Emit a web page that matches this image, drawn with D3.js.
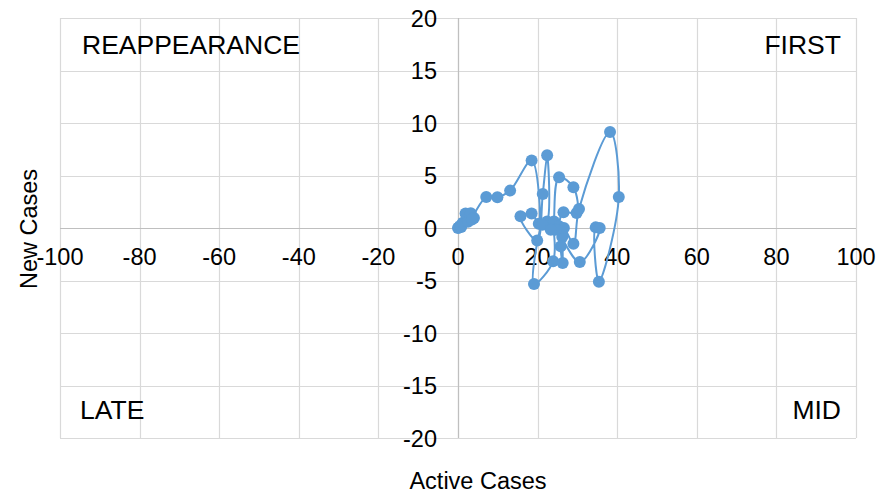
<!DOCTYPE html>
<html>
<head>
<meta charset="utf-8">
<script src="https://cdn.jsdelivr.net/npm/d3@7"></script>
<style>
  body { margin: 0; background: #fff; }
  text { font-family: "Liberation Sans", Arial, sans-serif; fill: #000; }
</style>
</head>
<body>
<div id="chart"></div>
<script>
// data (active cases, new cases), in drawing order
var activeCases = [0, 0.2, 0.5, 0.8, 1.2, 1.9, 2.5, 3.2, 4.0, 3.5, 7.1, 9.9, 13.1, 18.5, 20.3, 18.5, 15.7, 19.9,
  21.3, 22.4, 22.4, 21.2, 19.1, 23.9, 24.1, 25.4, 29.0, 29.8, 26.5, 25.4, 26.2, 25.8, 26.3, 26.6, 29.0, 30.4,
  38.2, 40.4, 35.4, 34.6, 35.6, 30.6, 24.5, 23.3];
var newCases = [0, 0.05, 0.2, 0.1, 0.5, 1.37, 0.6, 1.4, 0.95, 0.8, 2.95, 2.92, 3.56, 6.44, 0.4, 1.37, 1.11, -1.2,
  3.24, 6.92, 0.63, 0.32, -5.33, -3.17, 0.63, 4.83, 3.87, 1.43, 1.49, 0.16, -0.86, -1.75, -3.33, 0, -1.49, 1.81,
  9.14, 2.95, -5.11, 0.06, 0, -3.24, -0.16, -0.16];

var xTicks = [-100, -80, -60, -40, -20, 0, 20, 40, 60, 80, 100];
var yTicks = [-20, -15, -10, -5, 0, 5, 10, 15, 20];
var quadrants = ["REAPPEARANCE", "FIRST", "LATE", "MID"];

var width = 890,
    height = 495,
    margin = {top: 18, right: 34, bottom: 57, left: 60};

var svg = d3.select("#chart").append("svg")
    .attr("width", width)
    .attr("height", height);

var x = d3.scaleLinear()
    .domain([-100, 100])
    .range([margin.left, width - margin.right]);

var y = d3.scaleLinear()
    .domain([-20, 20])
    .range([height - margin.bottom, margin.top]);

// gridlines
svg.append("g").selectAll("line")
    .data(xTicks)
  .enter().append("line")
    .attr("x1", d => Math.round(x(d)) + 0.5)
    .attr("x2", d => Math.round(x(d)) + 0.5)
    .attr("y1", y(20))
    .attr("y2", y(-20))
    .attr("stroke", "#d9d9d9")
    .attr("stroke-width", 1.2);

svg.append("g").selectAll("line")
    .data(yTicks)
  .enter().append("line")
    .attr("x1", x(-100))
    .attr("x2", x(100))
    .attr("y1", d => Math.round(y(d)) + 0.5)
    .attr("y2", d => Math.round(y(d)) + 0.5)
    .attr("stroke", "#d9d9d9")
    .attr("stroke-width", 1.2);

// axis lines through the origin
svg.append("line")
    .attr("x1", x(-100)).attr("x2", x(100))
    .attr("y1", Math.round(y(0)) + 0.5).attr("y2", Math.round(y(0)) + 0.5)
    .attr("stroke", "#bfbfbf").attr("stroke-width", 1.2);
svg.append("line")
    .attr("x1", Math.round(x(0)) + 0.5).attr("x2", Math.round(x(0)) + 0.5)
    .attr("y1", y(20)).attr("y2", y(-20))
    .attr("stroke", "#bfbfbf").attr("stroke-width", 1.2);

// tick labels
svg.append("g").selectAll("text")
    .data(xTicks)
  .enter().append("text")
    .attr("x", d => x(d))
    .attr("y", y(0) + 37)
    .attr("text-anchor", "middle")
    .style("font-size", "23.5px")
    .text(d => d);

svg.append("g").selectAll("text")
    .data(yTicks)
  .enter().append("text")
    .attr("x", x(0) - 21)
    .attr("y", d => y(d) + 8.5)
    .attr("text-anchor", "end")
    .style("font-size", "23.5px")
    .text(d => d);

// axis titles
svg.append("text")
    .attr("x", 478)
    .attr("y", 489)
    .attr("text-anchor", "middle")
    .style("font-size", "23.5px")
    .text("Active Cases");

svg.append("text")
    .attr("transform", "translate(37," + (y(0) + 1) + ") rotate(-90)")
    .attr("text-anchor", "middle")
    .style("font-size", "23.5px")
    .text("New Cases");

// quadrant labels
svg.append("text").attr("x", 82).attr("y", 54).style("font-size", "26.5px").text(quadrants[0]);
svg.append("text").attr("x", 841).attr("y", 54).attr("text-anchor", "end").style("font-size", "26.5px").text(quadrants[1]);
svg.append("text").attr("x", 80).attr("y", 419).style("font-size", "26.5px").text(quadrants[2]);
svg.append("text").attr("x", 841).attr("y", 419).attr("text-anchor", "end").style("font-size", "26.5px").text(quadrants[3]);

// series
var points = activeCases.map((d, i) => [d, newCases[i]]);

var line = d3.line()
    .x(d => x(d[0]))
    .y(d => y(d[1]))
    .curve(d3.curveCatmullRom.alpha(0.5));

svg.append("path")
    .datum(points)
    .attr("d", line)
    .attr("fill", "none")
    .attr("stroke", "#5b9bd5")
    .attr("stroke-width", 2);

svg.append("g").selectAll("circle")
    .data(points)
  .enter().append("circle")
    .attr("cx", d => x(d[0]))
    .attr("cy", d => y(d[1]))
    .attr("r", 6)
    .attr("fill", "#5b9bd5");
</script>
</body>
</html>
